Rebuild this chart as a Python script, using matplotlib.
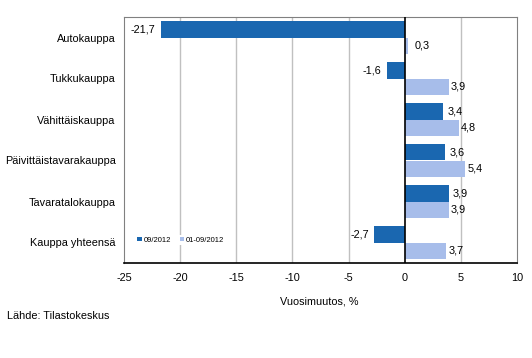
import numpy as np
import matplotlib
matplotlib.use("Agg")
import matplotlib.pyplot as plt

categories = ["Autokauppa", "Tukkukauppa", "Vähittäiskauppa",
              "Päivittäistavarakauppa", "Tavaratalokauppa", "Kauppa yhteensä"]
month_vals = [-21.7, -1.6, 3.4, 3.6, 3.9, -2.7]
cum_vals = [0.3, 3.9, 4.8, 5.4, 3.9, 3.7]
series_names = ["09/2012", "01-09/2012"]
xticks = [-25, -20, -15, -10, -5, 0, 5, 10]

plt.rcParams["font.family"] = ["Liberation Sans", "DejaVu Sans"]
plt.rcParams["font.size"] = 7.8

dark = "#1a67b0"
light = "#a7bdea"

fig = plt.figure(figsize=(5.32, 3.58), dpi=100)
ax = fig.add_axes([124 / 532, 1 - 263 / 358, (517 - 124) / 532, (263 - 17) / 358])

n = len(categories)
y = np.arange(n)
h = 0.4
ax.barh(y - h / 2, month_vals, height=h, color=dark, label=series_names[0], zorder=3)
ax.barh(y + h / 2, cum_vals, height=h, color=light, label=series_names[1], zorder=3)

def fmt(v):
    return ("%.1f" % v).replace(".", ",")

for i in range(n):
    v = month_vals[i]
    if v < 0:
        ax.text(v - 0.5, y[i] - h / 2, fmt(v), ha="right", va="center")
    else:
        ax.text(v + 0.4, y[i] - h / 2, fmt(v), ha="left", va="center")
    v = cum_vals[i]
    off = 0.6 if v < 1 else 0.2
    ax.text(v + off, y[i] + h / 2, fmt(v), ha="left", va="center")

ax.set_ylim(n - 0.5, -0.5)
ax.set_xlim(-25, 10)
ax.set_xticks(xticks)
ax.set_xticklabels([str(t) for t in xticks])
ax.set_yticks(y)
ax.set_yticklabels(categories)
ax.tick_params(axis="y", length=0, pad=6)
ax.tick_params(axis="x", length=0, pad=7)

for t in xticks:
    if t not in (-25, 0, 10):
        ax.axvline(t, color="#c0c0c0", lw=1, zorder=1)
ax.axvline(0, color="black", lw=1.2, zorder=4)

for s in ["top", "left", "right"]:
    ax.spines[s].set_color("#808080")
    ax.spines[s].set_linewidth(0.8)
ax.spines["bottom"].set_color("black")
ax.spines["bottom"].set_linewidth(1.2)

leg = ax.legend(loc="center left", bbox_to_anchor=(0.02, 0.093),
                ncol=2, frameon=True, fontsize=5.5, handlelength=0.6, handleheight=0.6,
                handletextpad=0.2, columnspacing=1.2, borderpad=0.2, framealpha=1)
leg.get_frame().set_edgecolor("white")
leg.get_frame().set_linewidth(0)

fig.text(280 / 532, 1 - 301 / 358, "Vuosimuutos, %", ha="left", va="center")
fig.text(7 / 532, 1 - 316 / 358, "Lähde: Tilastokeskus", ha="left", va="center")

fig.savefig("out.png", dpi=100)
